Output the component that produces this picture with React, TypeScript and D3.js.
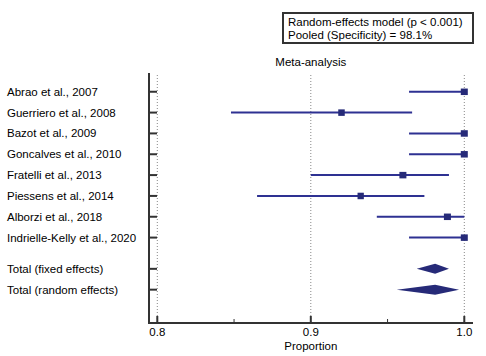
import React from "react";
import * as d3 from "d3";

const studies = [
  "Abrao et al., 2007",
  "Guerriero et al., 2008",
  "Bazot et al., 2009",
  "Goncalves et al., 2010",
  "Fratelli et al., 2013",
  "Piessens et al., 2014",
  "Alborzi et al., 2018",
  "Indrielle-Kelly et al., 2020",
];
const estimates = [1.0, 0.92, 1.0, 1.0, 0.96, 0.9325, 0.989, 1.0];
const lowers = [0.964, 0.848, 0.964, 0.964, 0.9, 0.865, 0.943, 0.964];
const uppers = [1.0, 0.966, 1.0, 1.0, 0.99, 0.974, 1.0, 1.0];
const weights = [7, 6.5, 7, 7, 7, 6.3, 7, 7];

const pooledLabels = ["Total (fixed effects)", "Total (random effects)"];
const pooledEst = [0.981, 0.981];
const pooledLow = [0.969, 0.956];
const pooledHigh = [0.99, 0.9966];
const pooledRows = [8.5, 9.5];

const xTicksMajor = [0.8, 0.9, 1.0];
const xTicksMinor = [0.85, 0.95];

const FONT = "'Liberation Sans', Arial, sans-serif";
const FS = 11.5;
const LINE = "#2E3192";
const MARK = "#262A78";
const AX = "#333333";

export default function App() {
  const W = 486, H = 356;
  const x = d3.scaleLinear().domain([0.8, 1.0]).range([157.3, 464.3]);
  const y = d3.scaleLinear().domain([-0.9, 11.1]).range([73, 323]);
  const axisX = 149;
  const axisY = 323;
  const xEnd = 473;

  const rows = studies.map((s, i) => i);

  return (
    <svg width={W} height={H} style={{ position: "absolute", left: 0, top: 0, fontFamily: FONT }}>
      <rect x={0} y={0} width={W} height={H} fill="#fff" />
      {/* legend box */}
      <rect x={283} y={13} width={190} height={30} fill="#fff" stroke="#333" strokeWidth={2} />
      <text x={288} y={25.5} fontSize={FS} fill="#000">Random-effects model (p &lt; 0.001)</text>
      <text x={288} y={39} fontSize={FS} fill="#000">Pooled (Specificity) = 98.1%</text>
      {/* title */}
      <text x={x(0.9)} y={66} fontSize={FS} textAnchor="middle" fill="#000">Meta-analysis</text>

      {/* gridlines */}
      {xTicksMajor.map((t) => (
        <line key={"g" + t} x1={x(t)} x2={x(t)} y1={75} y2={axisY} stroke="#888" strokeWidth={1} strokeDasharray="1,2" />
      ))}

      {/* study rows */}
      {rows.map((i) => (
        <g key={i}>
          <text x={7} y={y(i) + 4} fontSize={FS} fill="#000">{studies[i]}</text>
          <line x1={axisX} x2={axisX + 8} y1={y(i)} y2={y(i)} stroke={AX} strokeWidth={2} />
          <line x1={x(lowers[i])} x2={x(uppers[i])} y1={y(i)} y2={y(i)} stroke={LINE} strokeWidth={2} />
          <rect
            x={x(estimates[i]) - weights[i] / 2}
            y={y(i) - 3.2}
            width={weights[i]}
            height={6.5}
            fill={MARK}
          />
        </g>
      ))}

      {/* pooled */}
      {pooledLabels.map((lab, k) => {
        const yy = y(pooledRows[k]);
        const pts = [
          [x(pooledLow[k]), yy],
          [x(pooledEst[k]), yy - 5],
          [x(pooledHigh[k]), yy],
          [x(pooledEst[k]), yy + 5],
        ];
        return (
          <g key={lab}>
            <text x={7} y={yy + 4} fontSize={FS} fill="#000">{lab}</text>
            <line x1={axisX} x2={axisX + 8} y1={yy} y2={yy} stroke={AX} strokeWidth={2} />
            <polygon points={pts.map((p) => p.join(",")).join(" ")} fill={MARK} />
          </g>
        );
      })}

      {/* axes */}
      <line x1={axisX} x2={axisX} y1={73} y2={axisY + 1} stroke={AX} strokeWidth={2} />
      <line x1={axisX - 1} x2={xEnd} y1={axisY} y2={axisY} stroke={AX} strokeWidth={2} />
      {xTicksMajor.map((t) => (
        <g key={"t" + t}>
          <line x1={x(t)} x2={x(t)} y1={axisY - 7} y2={axisY} stroke={AX} strokeWidth={2} />
          <text x={x(t)} y={336} fontSize={FS} textAnchor="middle" fill="#000">{d3.format(".1f")(t)}</text>
        </g>
      ))}
      {xTicksMinor.map((t) => (
        <line key={"m" + t} x1={x(t)} x2={x(t)} y1={axisY - 4} y2={axisY} stroke={AX} strokeWidth={1} />
      ))}
      <text x={x(0.9)} y={350} fontSize={FS} textAnchor="middle" fill="#000">Proportion</text>
    </svg>
  );
}
